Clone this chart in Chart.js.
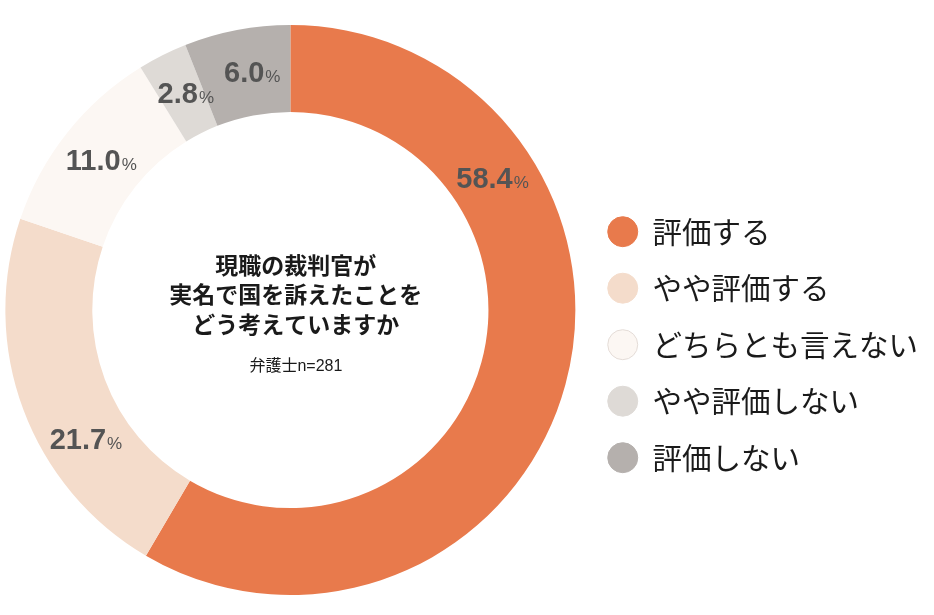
<!DOCTYPE html>
<html lang="ja">
<head>
<meta charset="utf-8">
<script src="https://cdn.jsdelivr.net/npm/chart.js@4/dist/chart.umd.min.js"></script>
<style>
  html, body { margin: 0; padding: 0; background: #fff; }
  #wrap { width: 934px; height: 615px; position: relative; }
</style>
</head>
<body>
<div id="wrap"><canvas id="pieChart"></canvas></div>
<script>
  // データ
  const categories = ["評価する", "やや評価する", "どちらとも言えない", "やや評価しない", "評価しない"];
  const shares = [58.4, 21.7, 11.0, 2.8, 6.0];
  const titleLines = ["現職の裁判官が", "実名で国を訴えたことを", "どう考えていますか"];
  const sampleNote = "弁護士n=281";

  const colors = ["#E87A4C", "#F4DCCB", "#FCF7F3", "#DEDAD6", "#B5B0AD"];
  const legendBorders = ["#E87A4C", "#F4DCCB", "#E4DCD7", "#DEDAD6", "#B5B0AD"];

  // ラベルの位置（各扇形の中での角度の割合）
  const labelAnchor = [0.27, 0.35, 0.5, 0.6, 0.58];

  const jpFont = '"Noto Sans CJK JP", "Noto Sans", sans-serif';

  // 扇形の上の数値
  const sliceLabels = {
    id: "sliceLabels",
    afterDatasetsDraw(chart) {
      const ctx = chart.ctx;
      ctx.save();
      chart.getDatasetMeta(0).data.forEach((arc, i) => {
        const p = arc.getProps(["x", "y", "startAngle", "endAngle", "innerRadius", "outerRadius"], true);
        const a = p.startAngle + (p.endAngle - p.startAngle) * labelAnchor[i];
        const r = (p.innerRadius + p.outerRadius) / 2;
        const cx = p.x + Math.cos(a) * r;
        const cy = p.y + Math.sin(a) * r;
        const num = shares[i].toFixed(1);
        ctx.font = 'bold 29px "Liberation Sans", Arial, sans-serif';
        const w1 = ctx.measureText(num).width;
        ctx.font = '17px "Liberation Sans", Arial, sans-serif';
        const w2 = ctx.measureText("%").width + 1;
        const left = cx - (w1 + w2) / 2;
        const base = cy + 10.5;
        ctx.fillStyle = "#545454";
        ctx.textAlign = "left";
        ctx.textBaseline = "alphabetic";
        ctx.font = 'bold 29px "Liberation Sans", Arial, sans-serif';
        ctx.fillText(num, left, base);
        ctx.font = '17px "Liberation Sans", Arial, sans-serif';
        ctx.fillText("%", left + w1 + 1, base);
      });
      ctx.restore();
    }
  };

  // 中央のテキスト
  const centerText = {
    id: "centerText",
    afterDatasetsDraw(chart) {
      const arc = chart.getDatasetMeta(0).data[0];
      if (!arc) return;
      const ctx = chart.ctx;
      const x = arc.x + 5.5;
      const y = arc.y;
      ctx.save();
      ctx.textAlign = "center";
      ctx.textBaseline = "middle";
      ctx.fillStyle = "#1a1a1a";
      ctx.font = "bold 23px " + jpFont;
      titleLines.forEach((line, i) => {
        ctx.fillText(line, x, y - 45 + i * 29.5);
      });
      ctx.font = '16px "Liberation Sans", ' + jpFont;
      ctx.fillText(sampleNote, x, y + 57);
      ctx.restore();
    }
  };

  new Chart(document.getElementById("pieChart"), {
    type: "doughnut",
    data: {
      labels: categories,
      datasets: [{
        data: shares,
        backgroundColor: colors,
        borderWidth: 0
      }]
    },
    options: {
      responsive: true,
      maintainAspectRatio: false,
      animation: false,
      cutout: "69.5%",
      layout: { padding: { left: 0, top: 25, bottom: 20, right: 6 } },
      plugins: {
        tooltip: { enabled: false },
        legend: {
          position: "right",
          title: { display: true, text: "", font: { size: 12 }, padding: { top: 55, bottom: 0 } },
          labels: {
            usePointStyle: true,
            pointStyle: "circle",
            pointStyleWidth: 30,
            boxHeight: 21.2,
            padding: 27,
            color: "#1a1a1a",
            font: { family: jpFont, size: 29.5 },
            generateLabels(chart) {
              const items = Chart.overrides.doughnut.plugins.legend.labels.generateLabels(chart);
              items.forEach((it, i) => {
                it.strokeStyle = legendBorders[i];
                it.lineWidth = 1;
              });
              return items;
            }
          }
        }
      }
    },
    plugins: [sliceLabels, centerText]
  });
</script>
</body>
</html>
